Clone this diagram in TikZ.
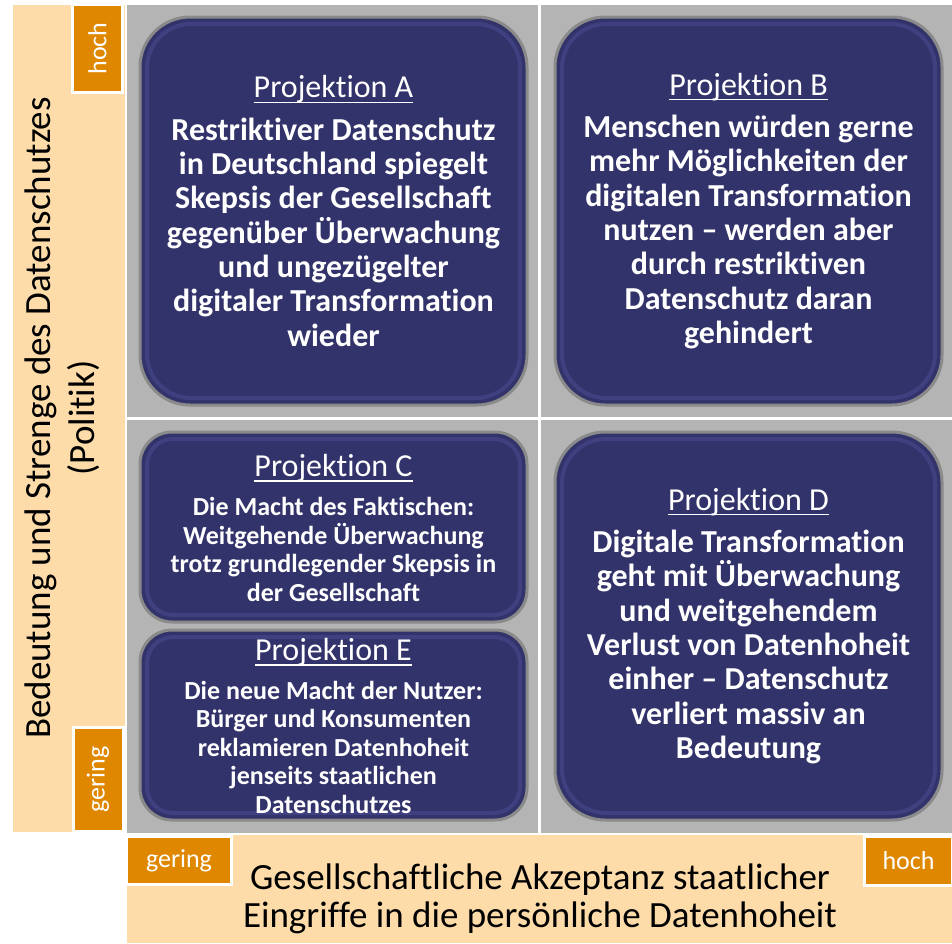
\documentclass[tikz,border=0pt]{standalone}
\usepackage{fontspec}
\setmainfont{Carlito}[Ligatures={TeX,NoCommon}]
\definecolor{peach}{HTML}{FDDCA9}
\definecolor{orng}{HTML}{E08700}
\definecolor{bggray}{HTML}{B4B4B4}
\definecolor{navy}{HTML}{33336B}
\definecolor{navyglow}{HTML}{4A4A8E}
\definecolor{rimgray}{HTML}{8A8A8A}
\newcommand\ptitleu[1]{{\mdseries\setbox0\hbox{#1}\rlap{\rule[-5pt]{\wd0}{1.4pt}}\box0}}
\tikzset{
  pbox/.style={draw=rimgray, line width=3pt, fill=navy, inner sep=0pt},
  pglow/.style={draw=navyglow, line width=4pt, opacity=0.6, inner sep=0pt},
  ptext/.style={text=white, align=center, inner sep=0pt, font=\bfseries\fontsize{32}{34.3}\selectfont},
  ptextsmall/.style={text=white, align=center, inner sep=0pt, font=\bfseries\fontsize{26}{28.6}\selectfont},
  lab/.style={fill=orng, draw=white, line width=3pt, text=white, inner sep=0pt, font=\fontsize{26}{28}\selectfont},
  axis/.style={text=black, align=center, inner sep=0pt},
}
\begin{document}
\begin{tikzpicture}[x=1pt,y=-1pt]
\useasboundingbox (0,0) rectangle (952,943);
\fill[white] (0,0) rectangle (952,943);
% axis bands
\fill[peach] (13,5) rectangle (125,832);
\fill[peach] (127,835) rectangle (952,943);
% gray field
\fill[bggray] (127,5) rectangle (952,833);
\draw[white, line width=3pt] (539,5) -- (539,833);
\draw[white, line width=3pt] (127,418) -- (952,418);
% boxes
\node[pbox, minimum width=387pt, minimum height=388pt, rounded corners=50pt] (A) at (333.5,211) {};
\node[pglow, minimum width=373pt, minimum height=374pt, rounded corners=44pt] (Ag) at (A) {};
\node[pbox, minimum width=387pt, minimum height=388pt, rounded corners=50pt] (B) at (748.5,211) {};
\node[pglow, minimum width=373pt, minimum height=374pt, rounded corners=44pt] (Bg) at (B) {};
\node[pbox, minimum width=387pt, minimum height=190pt, rounded corners=32pt] (C) at (333.5,527) {};
\node[pglow, minimum width=373pt, minimum height=176pt, rounded corners=26pt] (Cg) at (C) {};
\node[pbox, minimum width=387pt, minimum height=190pt, rounded corners=32pt] (E) at (333.5,725) {};
\node[pglow, minimum width=373pt, minimum height=176pt, rounded corners=26pt] (Eg) at (E) {};
\node[pbox, minimum width=387pt, minimum height=388pt, rounded corners=50pt] (D) at (748.5,626) {};
\node[pglow, minimum width=373pt, minimum height=374pt, rounded corners=44pt] (Dg) at (D) {};
% texts
\node[ptext] (At) at (333.5,211) {\ptitleu{Projektion A}\\[8pt]
Restriktiver Datenschutz\\ in Deutschland spiegelt\\ Skepsis der Gesellschaft\\ gegenüber Überwachung\\ und ungezügelter\\ digitaler Transformation\\ wieder};
\node[ptext] (Bt) at (748.5,211) {\ptitleu{Projektion B}\\[8pt]
Menschen würden gerne\\ mehr Möglichkeiten der\\ digitalen Transformation\\ nutzen – werden aber\\ durch restriktiven\\ Datenschutz daran\\ gehindert};
\node[ptextsmall] (Ct) at (333.5,528) {{\fontsize{32}{34}\selectfont\ptitleu{Projektion C}}\\[10pt]
Die Macht des Faktischen:\\ Weitgehende Überwachung\\ trotz grundlegender Skepsis in\\ der Gesellschaft};
\node[ptextsmall] (Et) at (333.5,726) {{\fontsize{32}{34}\selectfont\ptitleu{Projektion E}}\\[10pt]
Die neue Macht der Nutzer:\\ Bürger und Konsumenten\\ reklamieren Datenhoheit\\ jenseits staatlichen\\ Datenschutzes};
\node[ptext] (Dt) at (748.5,626) {\ptitleu{Projektion D}\\[8pt]
Digitale Transformation\\ geht mit Überwachung\\ und weitgehendem\\ Verlust von Datenhoheit\\ einher – Datenschutz\\ verliert massiv an\\ Bedeutung};
% axis labels
\node[axis, rotate=90, font=\fontsize{37}{44}\selectfont] (yax) at (62,418) {Bedeutung und Strenge des Datenschutzes\\ (Politik)};
\node[axis, font=\fontsize{37}{38}\selectfont] (xax) at (540,899) {Gesellschaftliche Akzeptanz staatlicher\\ Eingriffe in die persönliche Datenhoheit};
% small labels
\node[lab, minimum width=50pt, minimum height=88pt] (yhigh) at (97.5,48.5) {};
\node[text=white, rotate=90, font=\fontsize{26}{28}\selectfont, inner sep=0pt] at (yhigh) {hoch};
\node[lab, minimum width=50pt, minimum height=104pt] (ylow) at (98,779.5) {};
\node[text=white, rotate=90, font=\fontsize{26}{28}\selectfont, inner sep=0pt] at (ylow) {gering};
\node[lab, minimum width=105pt, minimum height=48pt] (xlow) at (179,860.5) {gering};
\node[lab, minimum width=88pt, minimum height=49pt] (xhigh) at (908.5,861) {hoch};
\end{tikzpicture}
\end{document}
